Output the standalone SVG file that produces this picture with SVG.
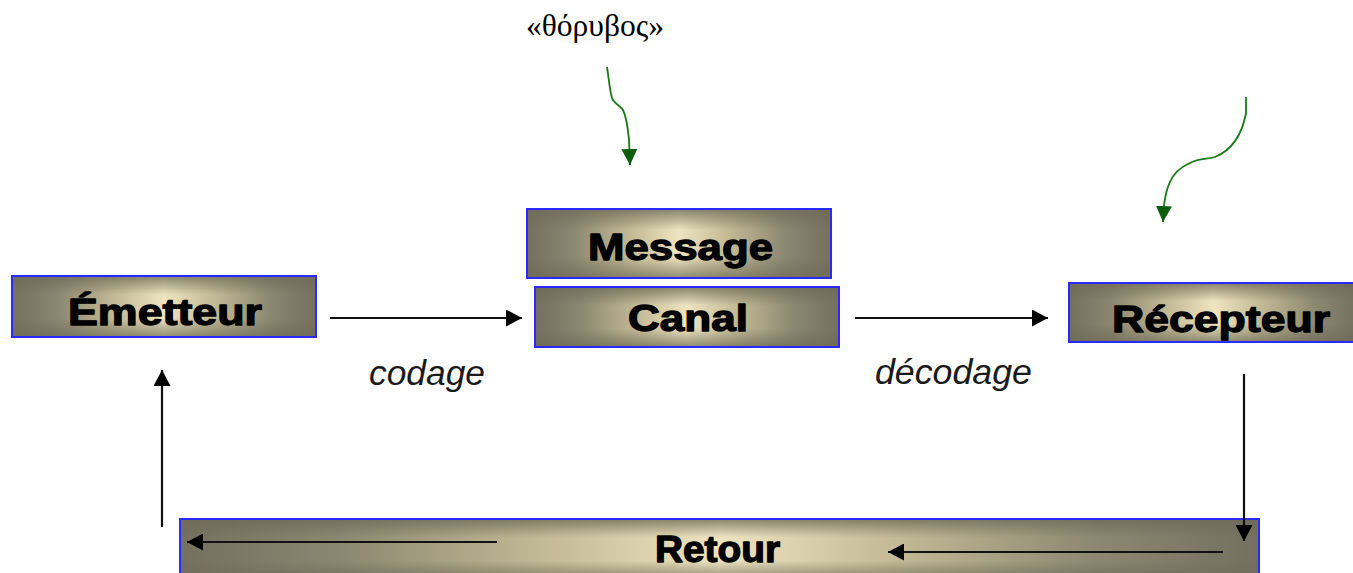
<svg xmlns="http://www.w3.org/2000/svg" width="1353" height="573" viewBox="0 0 1353 573">
  <style>
    .box { stroke: #2a2aff; stroke-width: 2; }
    .shade { fill: url(#vshade); }
    .label { font-family: "Liberation Sans", Arial, sans-serif; font-weight: bold; font-size: 37px; fill: #000; stroke: #000; stroke-width: 1.3; stroke-linejoin: round; }
    .step { font-family: "Liberation Sans", Arial, sans-serif; font-style: italic; font-size: 35px; fill: #1a1a1a; }
    .noise { font-family: "Liberation Serif", "Times New Roman", serif; font-size: 31px; fill: #000; }
    .flow { fill: none; stroke: #111; stroke-width: 2.2; }
    .wave { fill: none; stroke: #1a7a1a; stroke-width: 1.8; }
  </style>
  <defs>
    <linearGradient id="hgrad" x1="0" y1="0" x2="1" y2="0">
      <stop offset="0" stop-color="#747060"/>
      <stop offset="0.15" stop-color="#8c8770"/>
      <stop offset="0.35" stop-color="#c6bd98"/>
      <stop offset="0.5" stop-color="#eee5c0"/>
      <stop offset="0.65" stop-color="#c6bd98"/>
      <stop offset="0.85" stop-color="#8c8770"/>
      <stop offset="1" stop-color="#747060"/>
    </linearGradient>
    <linearGradient id="vshade" x1="0" y1="0" x2="0" y2="1">
      <stop offset="0" stop-color="#6e6a58" stop-opacity="0.75"/>
      <stop offset="0.3" stop-color="#6e6a58" stop-opacity="0"/>
      <stop offset="0.7" stop-color="#6e6a58" stop-opacity="0"/>
      <stop offset="1" stop-color="#6e6a58" stop-opacity="0.7"/>
    </linearGradient>
    <marker id="head" markerUnits="userSpaceOnUse" markerWidth="17" markerHeight="17" refX="16" refY="8.5" orient="auto">
      <path d="M0,0 L16,8.5 L0,17 z" fill="#000"/>
    </marker>
    <marker id="ghead" markerUnits="userSpaceOnUse" markerWidth="18" markerHeight="18" refX="16" refY="9" orient="auto">
      <path d="M0,1 L16,9 L0,17 z" fill="#0a5e0a"/>
    </marker>
  </defs>

  <!-- noise label -->
  <text class="noise" x="526" y="36" textLength="138" lengthAdjust="spacingAndGlyphs">«θόρυβος»</text>

  <!-- nodes -->
  <g id="emetteur">
    <rect class="box" x="12" y="276" width="304" height="61" fill="url(#hgrad)"/>
    <rect class="shade" x="13" y="277" width="302" height="59"/>
    <text class="label" x="68" y="325" textLength="194" lengthAdjust="spacingAndGlyphs">Émetteur</text>
  </g>
  <g id="message">
    <rect class="box" x="527" y="209" width="304" height="69" fill="url(#hgrad)"/>
    <rect class="shade" x="528" y="210" width="302" height="67"/>
    <text class="label" x="588" y="260" textLength="185" lengthAdjust="spacingAndGlyphs">Message</text>
  </g>
  <g id="canal">
    <rect class="box" x="535" y="287" width="304" height="60" fill="url(#hgrad)"/>
    <rect class="shade" x="536" y="288" width="302" height="58"/>
    <text class="label" x="628" y="331" textLength="120" lengthAdjust="spacingAndGlyphs">Canal</text>
  </g>
  <g id="recepteur">
    <rect class="box" x="1069" y="283" width="290" height="59" fill="url(#hgrad)"/>
    <rect class="shade" x="1070" y="284" width="288" height="57"/>
    <text class="label" x="1112" y="332" textLength="218" lengthAdjust="spacingAndGlyphs">Récepteur</text>
  </g>
  <g id="retour">
    <rect class="box" x="180" y="519" width="1079" height="60" fill="url(#hgrad)"/>
    <rect class="shade" x="181" y="520" width="1077" height="58"/>
    <text class="label" x="655" y="562" textLength="125" lengthAdjust="spacingAndGlyphs">Retour</text>
  </g>

  <!-- connectors -->
  <g id="connectors">
    <line class="flow" x1="330" y1="318" x2="522" y2="318" marker-end="url(#head)"/>
    <line class="flow" x1="855" y1="318" x2="1048" y2="318" marker-end="url(#head)"/>
    <line class="flow" x1="1244" y1="374" x2="1244" y2="541" marker-end="url(#head)"/>
    <line class="flow" x1="1223" y1="552" x2="888" y2="552" marker-end="url(#head)"/>
    <line class="flow" x1="497" y1="542" x2="187" y2="542" marker-end="url(#head)"/>
    <line class="flow" x1="162" y1="527" x2="162" y2="370" marker-end="url(#head)"/>
    <text class="step" x="369" y="385" textLength="116" lengthAdjust="spacingAndGlyphs">codage</text>
    <text class="step" x="875" y="384" textLength="157" lengthAdjust="spacingAndGlyphs">décodage</text>
    <path class="wave" d="M607,67 C609,80 610,92 612,98 C614,104 620,105 623,110 C627,118 628,130 629,140 L630,165" marker-end="url(#ghead)"/>
    <path class="wave" d="M1246,97 L1246,113 C1242,135 1232,150 1215,157 C1205,160 1198,158 1188,164 C1170,172 1166,190 1164,205 L1163,222" marker-end="url(#ghead)"/>
  </g>
</svg>
